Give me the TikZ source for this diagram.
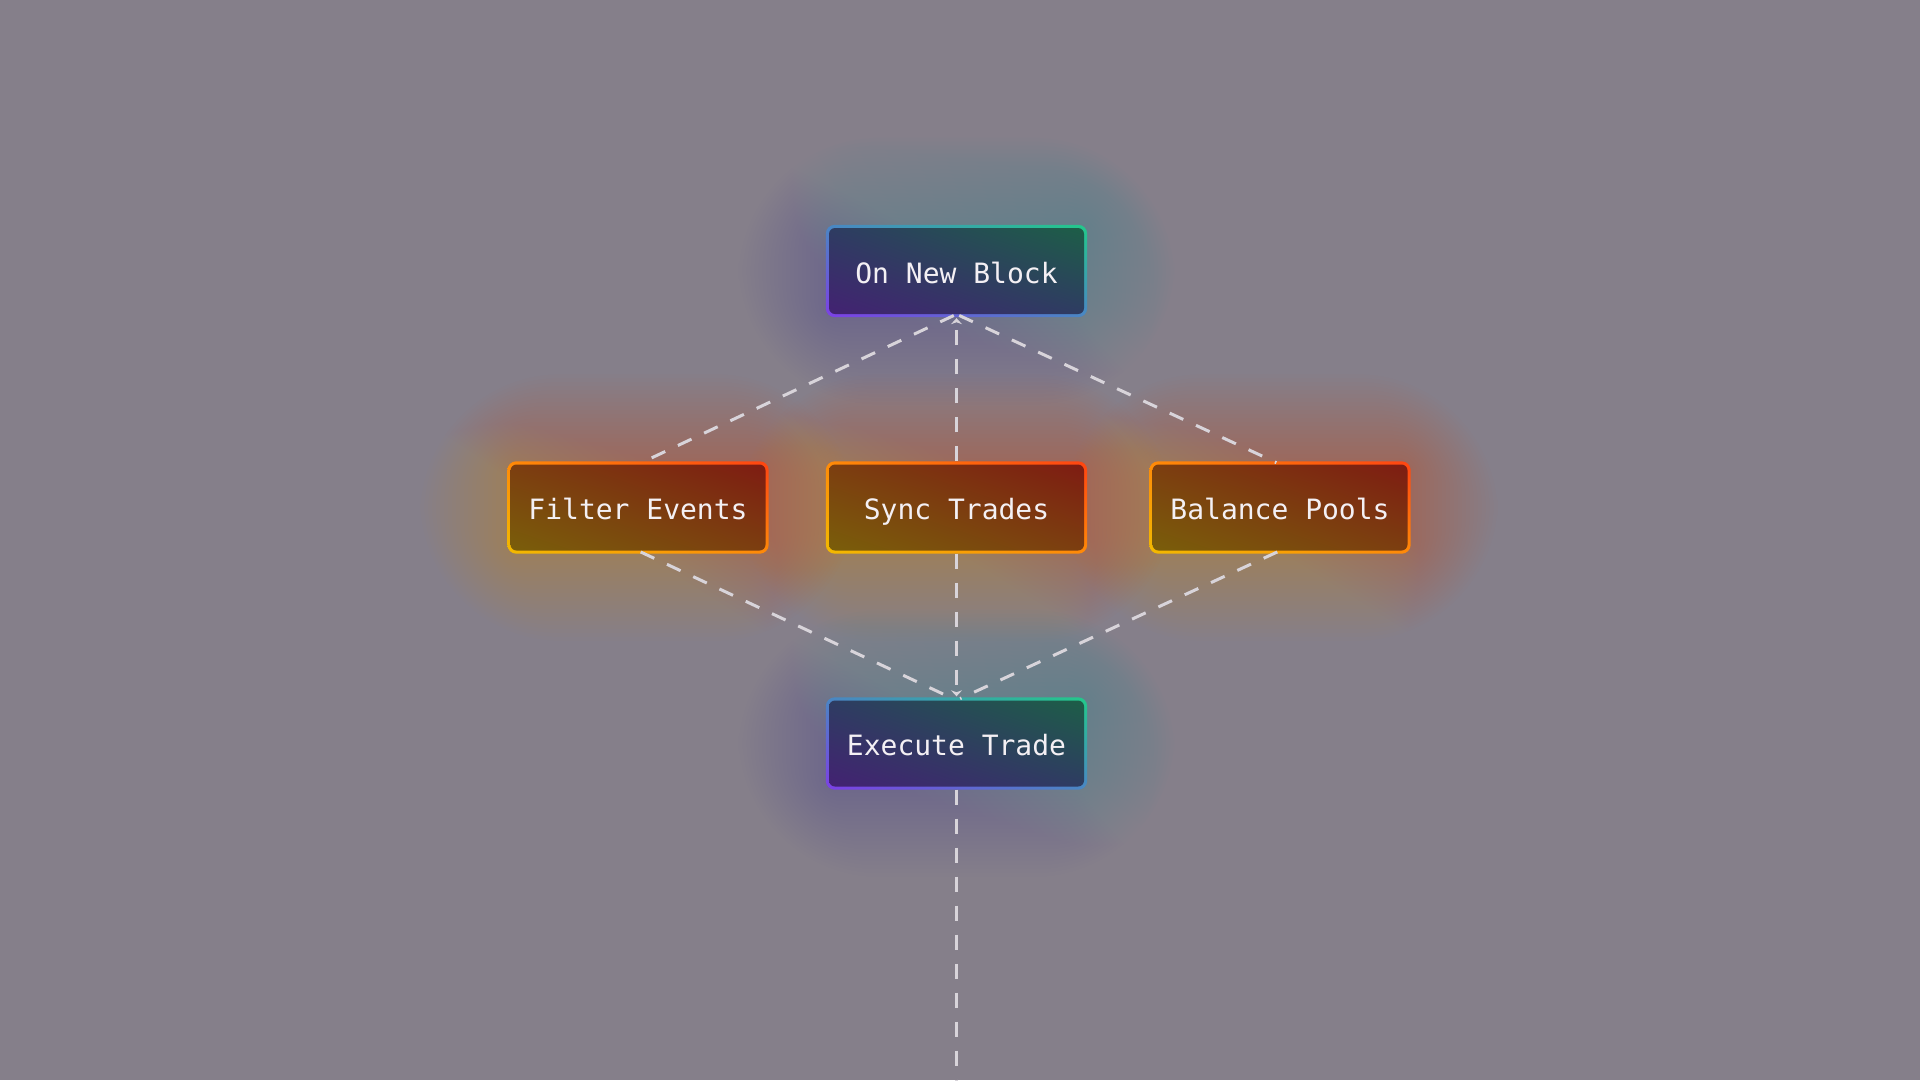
\documentclass[tikz,border=0pt]{standalone}
\usepackage{fontspec}
\newfontfamily\boxfont{DejaVu Sans Mono}
\usetikzlibrary{shadings,arrows.meta}
\definecolor{bgc}{HTML}{857F8A}
\definecolor{linec}{HTML}{D8D4DA}
\definecolor{boxtext}{HTML}{F4F0F4}
% blue boxes
\definecolor{bfillLL}{HTML}{432272}
\definecolor{bfillUR}{HTML}{1D5E47}
\definecolor{bfillM}{HTML}{2E3C62}
\definecolor{brimLL}{HTML}{7D3FE6}
\definecolor{brimUR}{HTML}{22C98A}
\definecolor{brimM}{HTML}{4A86C4}
\definecolor{bglowLL}{HTML}{6A3CC0}
\definecolor{bglowUR}{HTML}{26B08C}
\definecolor{bglowM}{HTML}{4A80A8}
% orange boxes
\definecolor{ofillLL}{HTML}{7A5E0A}
\definecolor{ofillUR}{HTML}{7E1C12}
\definecolor{ofillM}{HTML}{7C3E10}
\definecolor{orimLL}{HTML}{F2BA00}
\definecolor{orimUR}{HTML}{FF4412}
\definecolor{orimM}{HTML}{FF8A08}
\definecolor{oglowLL}{HTML}{E8B020}
\definecolor{oglowUR}{HTML}{E83C1C}
\definecolor{oglowM}{HTML}{E87420}
\pgfdeclarelayer{bgl}
\pgfdeclarelayer{glow}
\pgfdeclarelayer{rim}
\pgfsetlayers{bgl,glow,rim,main}
\newcommand\boxdeco[2]{%
  \begin{pgfonlayer}{glow}
    \foreach \i [evaluate=\i as \d using 2+4*\i, evaluate=\i as \r using 9+6*\i] in {1,...,22}{
      \shade[opacity=0.017, rounded corners=\r pt, lower left=#2glowLL, upper right=#2glowUR, upper left=#2glowM, lower right=#2glowM]
        ([shift={(-\d,\d)}]#1.south west) rectangle ([shift={(\d,-\d)}]#1.north east);
    }
  \end{pgfonlayer}
  \begin{pgfonlayer}{rim}
    \shade[rounded corners=9pt, lower left=#2rimLL, upper right=#2rimUR, upper left=#2rimM, lower right=#2rimM]
      ([shift={(-3,3)}]#1.south west) rectangle ([shift={(3,-3)}]#1.north east);
  \end{pgfonlayer}
}
\begin{document}
\begin{tikzpicture}[x=1pt,y=-1pt,
  box/.style={shape=rectangle, rounded corners=6pt, minimum width=255pt, minimum height=86pt,
    inner sep=0pt, text height=27pt, text depth=3pt,
    font=\boxfont\fontsize{28}{34}\selectfont, text=boxtext, shade},
  bluebox/.style={box, lower left=bfillLL, upper right=bfillUR, upper left=bfillM, lower right=bfillM},
  orangebox/.style={box, lower left=ofillLL, upper right=ofillUR, upper left=ofillM, lower right=ofillM},
  link/.style={draw=linec, line width=3pt, dash pattern=on 15pt off 14pt, shorten <=3pt, shorten >=4pt},
  tip/.style={-{Stealth[length=6pt,width=11pt]}}
]
\begin{pgfonlayer}{bgl}
\fill[bgc] (0,0) rectangle (1920,1080);
\end{pgfonlayer}
\useasboundingbox (0,0) rectangle (1920,1080);

\node[bluebox] (onb) at (956.5,271) {On New Block};
\node[orangebox] (flt) at (638,507.5) {Filter Events};
\node[orangebox] (syn) at (956.5,507.5) {Sync Trades};
\node[orangebox] (bal) at (1280,507.5) {Balance Pools};
\node[bluebox] (exe) at (956.5,743.5) {Execute Trade};
\coordinate (end) at (956.5,1080);

\boxdeco{onb}{b}
\boxdeco{flt}{o}
\boxdeco{syn}{o}
\boxdeco{bal}{o}
\boxdeco{exe}{b}

\draw[link] (onb.south) -- (flt.north);
\draw[link] (onb.south) -- (bal.north);
\draw[link,tip] (syn.north) -- (onb.south);
\draw[link] (flt.south) -- (exe.north);
\draw[link] (bal.south) -- (exe.north);
\draw[link,tip] (syn.south) -- (exe.north);
\draw[link,shorten >=0pt] (exe.south) -- (end);
\end{tikzpicture}
\end{document}
